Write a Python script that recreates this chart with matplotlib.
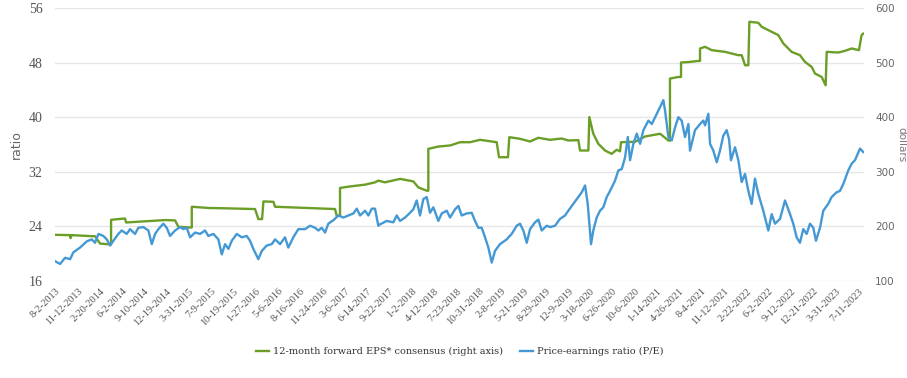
import numpy as np
import pandas as pd
import matplotlib
matplotlib.use("Agg")
import matplotlib.pyplot as plt

# x values are decimal years
pe_x = [2013.585, 2013.647, 2013.709, 2013.771, 2013.811, 2013.894, 2013.977, 2014.039, 2014.080, 2014.121,
        2014.183, 2014.225, 2014.266, 2014.307, 2014.368, 2014.410, 2014.472, 2014.513, 2014.575, 2014.616,
        2014.678, 2014.740, 2014.782, 2014.823, 2014.864, 2014.925, 2014.967, 2015.008, 2015.070, 2015.132,
        2015.173, 2015.215, 2015.256, 2015.318, 2015.380, 2015.441, 2015.482, 2015.544, 2015.606, 2015.648,
        2015.689, 2015.730, 2015.772, 2015.834, 2015.896, 2015.957, 2015.998, 2016.039, 2016.101, 2016.143,
        2016.205, 2016.267, 2016.308, 2016.370, 2016.431, 2016.472, 2016.534, 2016.596, 2016.679, 2016.741,
        2016.803, 2016.844, 2016.886, 2016.927, 2016.967, 2017.029, 2017.091, 2017.153, 2017.215, 2017.277,
        2017.319, 2017.360, 2017.422, 2017.463, 2017.505, 2017.545, 2017.586, 2017.607, 2017.690, 2017.772,
        2017.814, 2017.855, 2017.917, 2017.979, 2018.019, 2018.061, 2018.102, 2018.143, 2018.185, 2018.226,
        2018.267, 2018.329, 2018.371, 2018.433, 2018.474, 2018.536, 2018.577, 2018.618, 2018.680, 2018.742,
        2018.783, 2018.824, 2018.866, 2018.907, 2018.948, 2018.990, 2019.030, 2019.092, 2019.175, 2019.237,
        2019.299, 2019.340, 2019.381, 2019.423, 2019.464, 2019.526, 2019.567, 2019.608, 2019.670, 2019.711,
        2019.773, 2019.835, 2019.897, 2019.938, 2020.000, 2020.062, 2020.104, 2020.145, 2020.178, 2020.219,
        2020.247, 2020.289, 2020.330, 2020.371, 2020.413, 2020.454, 2020.516, 2020.557, 2020.599, 2020.640,
        2020.674, 2020.702, 2020.743, 2020.785, 2020.826, 2020.867, 2020.929, 2020.971, 2021.033, 2021.074,
        2021.114, 2021.135, 2021.176, 2021.218, 2021.259, 2021.300, 2021.341, 2021.382, 2021.424, 2021.444,
        2021.506, 2021.568, 2021.609, 2021.630, 2021.671, 2021.692, 2021.733, 2021.775, 2021.815, 2021.856,
        2021.898, 2021.927, 2021.951, 2022.001, 2022.042, 2022.084, 2022.125, 2022.166, 2022.207, 2022.248,
        2022.289, 2022.351, 2022.413, 2022.455, 2022.496, 2022.558, 2022.620, 2022.682, 2022.722, 2022.764,
        2022.805, 2022.846, 2022.888, 2022.929, 2022.970, 2023.003, 2023.053, 2023.094, 2023.155, 2023.197,
        2023.259, 2023.300, 2023.341, 2023.403, 2023.445, 2023.486, 2023.548, 2023.588]
pe_ratio = [18.9, 18.5, 19.4, 19.2, 20.2, 20.9, 21.8, 22.1, 21.6, 22.9,
            22.6, 22.1, 21.2, 21.9, 22.9, 23.4, 22.9, 23.6, 22.9, 23.8,
            23.9, 23.4, 21.4, 22.9, 23.6, 24.4, 23.8, 22.6, 23.4, 23.9,
            23.6, 23.8, 22.4, 23.1, 22.9, 23.4, 22.6, 22.9, 22.1, 19.9,
            21.4, 20.7, 21.9, 22.9, 22.4, 22.6, 21.9, 20.7, 19.2, 20.4,
            21.2, 21.4, 22.1, 21.4, 22.4, 20.9, 22.4, 23.6, 23.6, 24.1,
            23.8, 23.4, 23.8, 23.1, 24.4, 24.9, 25.6, 25.3, 25.6, 25.9,
            26.6, 25.6, 26.3, 25.6, 26.6, 26.6, 24.1, 24.3, 24.8, 24.6,
            25.6, 24.8, 25.3, 26.0, 26.5, 27.8, 25.6, 28.0, 28.3, 26.0,
            26.8, 24.8, 25.9, 26.3, 25.3, 26.5, 27.0, 25.6, 25.9, 26.0,
            24.8, 23.8, 23.8, 22.4, 20.9, 18.7, 20.4, 21.4, 22.1, 22.9,
            24.1, 24.4, 23.4, 21.6, 23.6, 24.6, 25.0, 23.4, 24.1, 23.9,
            24.1, 25.1, 25.6, 26.3, 27.3, 28.3, 29.0, 30.0, 27.3, 21.4,
            23.4, 25.3, 26.3, 26.8, 28.3, 29.2, 30.7, 32.2, 32.4, 34.1,
            37.1, 33.7, 36.1, 37.6, 36.1, 38.1, 39.5, 39.0, 40.5, 41.5,
            42.5, 41.0, 37.1, 36.6, 38.5, 40.0, 39.5, 37.1, 39.0, 35.1,
            38.1, 39.0, 39.5, 38.8, 40.5, 36.1, 35.1, 33.4, 35.1, 37.3,
            38.1, 36.8, 33.7, 35.6, 33.7, 30.5, 31.7, 29.2, 27.3, 31.0,
            28.8, 26.3, 23.4, 25.8, 24.4, 25.1, 27.8, 25.8, 24.4, 22.4,
            21.6, 23.6, 22.9, 24.4, 23.8, 21.9, 23.8, 26.3, 27.3, 28.3,
            29.0, 29.2, 30.2, 32.2, 33.2, 33.7, 35.4, 34.9]

eps_x = [2013.585, 2013.771, 2013.777, 2013.790, 2014.059, 2014.080, 2014.142, 2014.266, 2014.278, 2014.278,
         2014.451, 2014.464, 2014.946, 2015.070, 2015.111, 2015.256, 2015.277, 2015.277, 2015.503, 2015.565,
         2016.060, 2016.101, 2016.147, 2016.164, 2016.288, 2016.308, 2017.050, 2017.071, 2017.112, 2017.112,
         2017.215, 2017.422, 2017.545, 2017.586, 2017.669, 2017.855, 2018.019, 2018.081, 2018.185, 2018.205,
         2018.205, 2018.329, 2018.474, 2018.597, 2018.721, 2018.845, 2019.051, 2019.080, 2019.191, 2019.207,
         2019.340, 2019.464, 2019.567, 2019.711, 2019.856, 2019.938, 2020.062, 2020.083, 2020.186, 2020.198,
         2020.247, 2020.309, 2020.392, 2020.474, 2020.536, 2020.578, 2020.590, 2020.764, 2020.888, 2021.074,
         2021.176, 2021.196, 2021.196, 2021.300, 2021.333, 2021.333, 2021.424, 2021.548, 2021.568, 2021.568,
         2021.630, 2021.713, 2021.877, 2022.042, 2022.084, 2022.125, 2022.166, 2022.179, 2022.289, 2022.331,
         2022.455, 2022.537, 2022.599, 2022.702, 2022.805, 2022.867, 2022.950, 2022.991, 2023.074, 2023.123,
         2023.136, 2023.279, 2023.362, 2023.445, 2023.535, 2023.568, 2023.588]
eps_dollars = [184.6, 184.0, 178.5, 184.0, 182.0, 182.0, 168.6, 167.0, 167.0, 212.1,
               214.5, 207.2, 211.6, 211.0, 199.3, 198.0, 198.0, 236.0, 233.6, 233.6,
               231.8, 213.4, 213.4, 245.8, 245.0, 236.0, 231.8, 219.5, 219.5, 270.4,
               272.8, 276.5, 280.7, 283.8, 280.7, 287.0, 282.5, 271.5, 265.4, 265.4,
               342.0, 346.3, 348.2, 354.2, 354.2, 358.6, 354.2, 326.7, 326.7, 363.4,
               360.5, 355.5, 362.3, 358.6, 361.0, 357.4, 358.0, 339.0, 339.0, 400.2,
               369.7, 351.3, 339.0, 332.9, 340.3, 337.5, 354.2, 355.0, 364.7, 369.7,
               357.4, 357.0, 470.8, 473.7, 473.7, 500.2, 501.0, 503.1, 503.0, 525.9,
               528.9, 522.8, 519.7, 513.6, 513.6, 495.2, 495.2, 574.8, 573.0, 565.6,
               556.4, 550.4, 535.1, 519.7, 513.6, 501.3, 492.1, 480.0, 473.7, 458.5,
               519.7, 518.5, 521.5, 525.9, 522.8, 550.4, 553.0]

tick_labels = ["8-2-2013", "11-12-2013", "2-20-2014", "6-2-2014", "9-10-2014", "12-19-2014",
               "3-31-2015", "7-9-2015", "10-19-2015", "1-27-2016", "5-6-2016", "8-16-2016",
               "11-24-2016", "3-6-2017", "6-14-2017", "9-22-2017", "1-2-2018", "4-12-2018",
               "7-23-2018", "10-31-2018", "2-8-2019", "5-21-2019", "8-29-2019", "12-9-2019",
               "3-18-2020", "6-26-2020", "10-6-2020", "1-14-2021", "4-26-2021", "8-4-2021",
               "11-12-2021", "2-22-2022", "6-2-2022", "9-12-2022", "12-21-2022", "3-31-2023",
               "7-11-2023"]

d = pd.to_datetime(tick_labels, format="%m-%d-%Y")
tick_pos = d.year + (d.dayofyear - 1) / np.where(d.is_leap_year, 366, 365)

green = "#6b9e26"
blue = "#4499d5"
grey = "#555555"

fig = plt.figure(figsize=(9.07, 3.78), dpi=100)
ax = fig.add_axes([0.0606, 0.2566, 0.8922, 0.7222])
ax2 = ax.twinx()
ax.set_zorder(ax2.get_zorder() + 1)
ax.patch.set_visible(False)

l2, = ax2.plot(eps_x, eps_dollars, color=green, lw=1.7,
               label="12-month forward EPS* consensus (right axis)")
l1, = ax.plot(pe_x, pe_ratio, color=blue, lw=1.7, label="Price-earnings ratio (P/E)")

ax.set_xlim(2013.585, 2023.60)
ax.set_ylim(16, 56)
ax.set_yticks(np.arange(16, 57, 8))
ax2.set_ylim(100, 600)
ax2.set_yticks(np.arange(100, 601, 100))

ax2.grid(axis="y", color="#e6e6e6", lw=1)
ax2.set_axisbelow(True)

for a in (ax, ax2):
    for s in a.spines.values():
        s.set_visible(False)
    a.tick_params(length=0)

ax.set_xticks(tick_pos)
ax.set_xticklabels(tick_labels, rotation=45, ha="right", rotation_mode="anchor",
                   fontsize=7.5, color=grey, family="Liberation Serif")
ax.tick_params(axis="x", pad=4)
ax.tick_params(axis="y", pad=9)
for t in ax.get_yticklabels():
    t.set_family("Liberation Serif")
    t.set_fontsize(10)
    t.set_color(grey)
for t in ax2.get_yticklabels():
    t.set_family("DejaVu Sans")
    t.set_fontsize(7.5)
    t.set_color("#666666")
ax2.tick_params(axis="y", pad=8)

ax.set_ylabel("ratio", color="#666666", fontsize=9, labelpad=4)
ax2.set_ylabel("dollars", color="#777777", fontsize=7.5, rotation=270, labelpad=8)

fig.legend(handles=[l2, l1], loc="center", bbox_to_anchor=(0.507, 0.069), ncol=2,
           frameon=False, handlelength=1.4, handletextpad=0.4, columnspacing=1.7,
           prop={"family": "DejaVu Serif", "size": 7.0}, labelcolor="#333333")

fig.savefig("out.png", dpi=100)
